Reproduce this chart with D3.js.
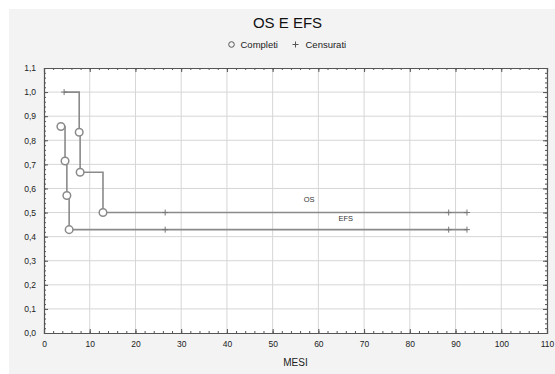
<!DOCTYPE html>
<html>
<head>
<meta charset="utf-8">
<script src="https://cdn.jsdelivr.net/npm/d3@7"></script>
<style>
  body { margin: 0; background: #fff; }
  text { font-family: "Liberation Sans", Arial, sans-serif; }
</style>
</head>
<body>
<div id="chart"></div>
<script>
// Kaplan-Meier data (months, survival)
var osTimes   = [4.4, 7.7, 7.9, 12.9, 26.5, 88.5, 92.5];
var osSurv    = [1.0, 0.833, 0.667, 0.5, 0.5, 0.5, 0.5];
var osEvent   = [0, 1, 1, 1, 0, 0, 0];   // 1 = completo, 0 = censurato

var efsTimes  = [3.7, 4.6, 5.0, 5.5, 26.5, 88.5, 92.5];
var efsSurv   = [0.857, 0.714, 0.571, 0.429, 0.429, 0.429, 0.429];
var efsEvent  = [1, 1, 1, 1, 0, 0, 0];

var xTicks = [0, 10, 20, 30, 40, 50, 60, 70, 80, 90, 100, 110];
var yTicks = [0, 0.1, 0.2, 0.3, 0.4, 0.5, 0.6, 0.7, 0.8, 0.9, 1.0, 1.1];

var width = 555, height = 374;
var margin = {top: 68, right: 8, bottom: 41, left: 44};

var svg = d3.select("#chart").append("svg")
    .attr("width", width)
    .attr("height", height);

// outer panel
svg.append("rect")
    .attr("x", 9).attr("y", 9)
    .attr("width", width - 9).attr("height", height - 9)
    .attr("fill", "#f3f3f3");

var x = d3.scaleLinear().domain([0, 110]).range([margin.left, width - margin.right]);
var y = d3.scaleLinear().domain([0, 1.1]).range([height - margin.bottom, margin.top]);

// plot area
svg.append("rect")
    .attr("x", x(0)).attr("y", y(1.1))
    .attr("width", x(110) - x(0)).attr("height", y(0) - y(1.1))
    .attr("fill", "#fff");

// grid
svg.append("g").selectAll("line")
    .data(xTicks.slice(1, -1))
    .enter().append("line")
    .attr("x1", function(d) { return x(d); }).attr("x2", function(d) { return x(d); })
    .attr("y1", y(0)).attr("y2", y(1.1))
    .attr("stroke", "#d6d6d6").attr("stroke-width", 1);

svg.append("g").selectAll("line")
    .data(yTicks.slice(1, -1))
    .enter().append("line")
    .attr("y1", function(d) { return y(d); }).attr("y2", function(d) { return y(d); })
    .attr("x1", x(0)).attr("x2", x(110))
    .attr("stroke", "#d6d6d6").attr("stroke-width", 1);

// axes (ticks pointing inside the frame)
var fmt = function(d) { return d3.format(".1f")(d).replace(".", ","); };

var xAxis = svg.append("g")
    .attr("transform", "translate(0," + y(0) + ")")
    .call(d3.axisBottom(x).tickValues(xTicks).tickSize(-4).tickPadding(8));
var yAxis = svg.append("g")
    .attr("transform", "translate(" + x(0) + ",0)")
    .call(d3.axisLeft(y).tickValues(yTicks).tickFormat(fmt).tickSize(-4).tickPadding(8));
var xTop = svg.append("g")
    .attr("transform", "translate(0," + y(1.1) + ")")
    .call(d3.axisTop(x).tickValues(xTicks).tickSize(-4).tickFormat(""));
var yRight = svg.append("g")
    .attr("transform", "translate(" + x(110) + ",0)")
    .call(d3.axisRight(y).tickValues(yTicks).tickSize(-4).tickFormat(""));

// minor ticks
var xMinor = d3.range(0, 111, 2);
var yMinor = d3.range(0, 56).map(function(i) { return i * 0.02; });
[[xAxis, d3.axisBottom], [xTop, d3.axisTop]].forEach(function(p) {
  p[0].append("g").call(p[1](x).tickValues(xMinor).tickSize(-2).tickFormat(""))
    .select(".domain").remove();
});
[[yAxis, d3.axisLeft], [yRight, d3.axisRight]].forEach(function(p) {
  p[0].append("g").call(p[1](y).tickValues(yMinor).tickSize(-2).tickFormat(""))
    .select(".domain").remove();
});

svg.selectAll(".domain").attr("stroke", "#555").attr("stroke-width", 1.2);
svg.selectAll(".tick line").attr("stroke", "#555");
svg.selectAll(".tick text").attr("fill", "#222").style("font-size", "8.5px");

// step curves
function drawCurve(times, surv, events) {
  var pts = [[times[0], surv[0]]];
  for (var i = 1; i < times.length; i++) {
    pts.push([times[i], surv[i - 1]]);
    pts.push([times[i], surv[i]]);
  }
  svg.append("path")
      .datum(pts)
      .attr("fill", "none")
      .attr("stroke", "#8a8a8a")
      .attr("stroke-width", 1.6)
      .attr("d", d3.line()
        .x(function(d) { return x(d[0]); })
        .y(function(d) { return y(d[1]); }));

  var data = times.map(function(t, i) { return {t: t, s: surv[i], e: events[i]}; });

  svg.append("g").selectAll("path")
      .data(data.filter(function(d) { return d.e === 0; }))
      .enter().append("path")
      .attr("d", function(d) {
        var cx = x(d.t), cy = y(d.s);
        return "M" + (cx - 3) + "," + cy + "H" + (cx + 3) + "M" + cx + "," + (cy - 3) + "V" + (cy + 3);
      })
      .attr("stroke", "#777").attr("stroke-width", 1);

  svg.append("g").selectAll("circle")
      .data(data.filter(function(d) { return d.e === 1; }))
      .enter().append("circle")
      .attr("cx", function(d) { return x(d.t); })
      .attr("cy", function(d) { return y(d.s); })
      .attr("r", 3.8)
      .attr("fill", "#fff")
      .attr("stroke", "#8a8a8a")
      .attr("stroke-width", 1.5);
}

drawCurve(osTimes, osSurv, osEvent);
drawCurve(efsTimes, efsSurv, efsEvent);

// curve labels
svg.append("text").attr("x", x(58)).attr("y", y(0.545))
    .attr("text-anchor", "middle").style("font-size", "7.5px").attr("fill", "#333").text("OS");
svg.append("text").attr("x", x(66)).attr("y", y(0.465))
    .attr("text-anchor", "middle").style("font-size", "7.5px").attr("fill", "#333").text("EFS");

// title and legend
var cx = (x(0) + x(110)) / 2 - 8;
svg.append("text").attr("x", cx).attr("y", 28)
    .attr("text-anchor", "middle").style("font-size", "15px").attr("fill", "#111").text("OS E EFS");

var leg = svg.append("g").attr("transform", "translate(" + cx + ",48)");
leg.append("circle").attr("cx", -56).attr("cy", -3.5).attr("r", 2.8)
    .attr("fill", "none").attr("stroke", "#555").attr("stroke-width", 1);
leg.append("text").attr("x", -47).attr("y", 0).style("font-size", "9.5px").attr("fill", "#222").text("Completi");
leg.append("path").attr("d", "M5,-3.5H11M8,-6.5V-0.5").attr("stroke", "#555").attr("stroke-width", 1);
leg.append("text").attr("x", 18).attr("y", 0).style("font-size", "9.5px").attr("fill", "#222").text("Censurati");

// x axis title
svg.append("text").attr("x", (x(0) + x(110)) / 2).attr("y", 366)
    .attr("text-anchor", "middle").style("font-size", "10px").attr("fill", "#222").text("MESI");
</script>
</body>
</html>
